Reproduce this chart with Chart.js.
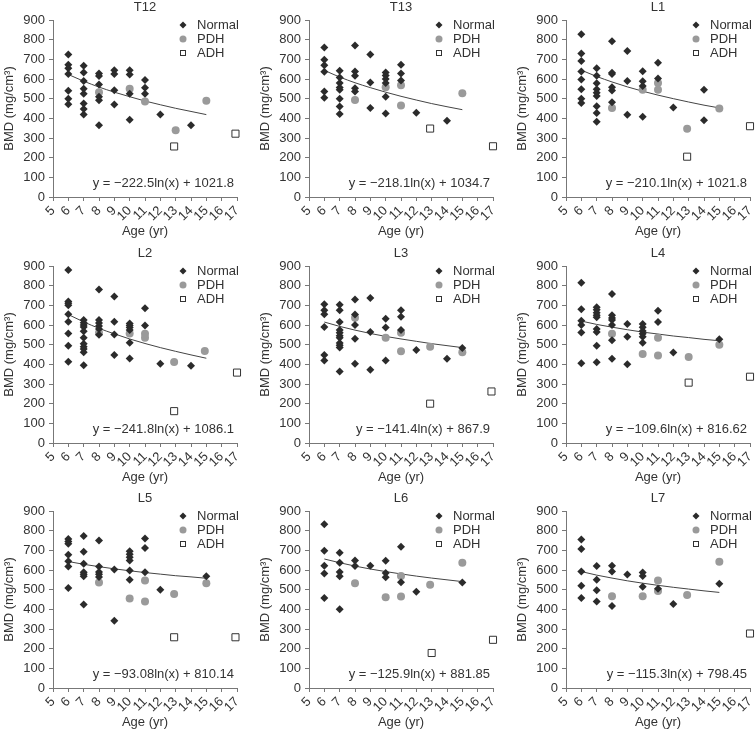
<!DOCTYPE html>
<html lang="en">
<head>
<meta charset="UTF-8">
<title>BMD by age, T12 - L7</title>
<script src="https://cdn.jsdelivr.net/npm/chart.js"></script>
<style>
  body { margin: 0; width: 755px; height: 729px; overflow: hidden; background: #fff; position: relative; }
  canvas { position: absolute; }
</style>
</head>
<body>
<script>
// panels, left to right, top to bottom
const panelNames = ['T12', 'T13', 'L1', 'L2', 'L3', 'L4', 'L5', 'L6', 'L7'];
const equations = [
  'y = \u2212222.5ln(x) + 1021.8',
  'y = \u2212218.1ln(x) + 1034.7',
  'y = \u2212210.1ln(x) + 1021.8',
  'y = \u2212241.8ln(x) + 1086.1',
  'y = \u2212141.4ln(x) + 867.9',
  'y = \u2212109.6ln(x) + 816.62',
  'y = \u221293.08ln(x) + 810.14',
  'y = \u2212125.9ln(x) + 881.85',
  'y = \u2212115.3ln(x) + 798.45'
];

// Normal: [age, [BMD values at that age]]
const normalPts = [
  [[6,[725,672,655,625,540,500,472]],[7,[667,633,590,550,525,475,448,420]],[8,[628,615,572,510,492,365]],[9,[645,625,543,470]],[10,[645,623,525,393]],[11,[595,555,525]],[12,[420]],[14,[365]]],
  [[6,[760,698,670,637,537,505]],[7,[642,608,580,557,545,500,460,422]],[8,[770,638,617,553,537]],[9,[725,582,453]],[10,[633,618,600,580,510,425]],[11,[673,628,592]],[12,[428]],[14,[388]]],
  [[6,[828,730,692,638,597,548,500,478]],[7,[655,617,578,548,530,513,462,427,382]],[8,[792,632,625,558,542,482]],[9,[742,590,418]],[10,[640,588,565,408]],[11,[683,602]],[12,[455]],[14,[545,390]]],
  [[6,[880,720,710,700,655,617,557,495,413]],[7,[625,612,600,590,568,535,505,490,478,462,395]],[8,[780,625,610,595,580,550]],[9,[745,617,552,448]],[10,[608,598,587,575,510,430]],[11,[685,598]],[12,[403]],[14,[393]]],
  [[6,[705,675,655,590,447,420]],[7,[703,675,615,575,560,545,535,508,497,485,363]],[8,[730,653,600,530,403]],[9,[737,565,372]],[10,[632,587,420]],[11,[675,642,575]],[12,[473]],[14,[428]],[15,[483]]],
  [[6,[815,680,622,600,562,405]],[7,[690,678,662,650,640,580,565,495,410]],[8,[757,650,635,625,600,522,428]],[9,[605,540,400]],[10,[605,588,570,555,540,510]],[11,[672,615]],[12,[460]],[15,[527]]],
  [[6,[757,745,733,677,645,618,508]],[7,[773,693,632,588,578,568,425]],[8,[750,618,590,578,565]],[9,[603,342]],[10,[695,680,665,648,597,550]],[11,[760,712,588]],[12,[500]],[15,[568]]],
  [[6,[833,698,622,582,458]],[7,[688,637,590,568,400]],[8,[648,620]],[9,[622]],[10,[647,585,563]],[11,[718,538]],[12,[490]],[15,[537]]],
  [[6,[755,707,592,520,457]],[7,[620,550,497,440]],[8,[622,593,417]],[9,[577]],[10,[587,570,515]],[11,[505]],[12,[427]],[15,[530]]]
];

// PDH and ADH: [age, BMD]
const pdhPts = [
  [[8,533],[10,550],[11,485],[13,340],[15,490]],
  [[8,493],[10,558],[11,568],[11,465],[15,527]],
  [[8,452],[10,545],[11,580],[11,545],[12.9,347],[15,450]],
  [[8,560],[10,557],[11,555],[11,535],[12.9,412],[14.9,468]],
  [[8,637],[10,535],[11,560],[11,467],[12.9,490],[15,462]],
  [[8,555],[10,452],[11,535],[11,445],[13,437],[15,500]],
  [[8,537],[10,455],[11,547],[11,440],[12.9,478],[15,533]],
  [[8,533],[10,462],[11,570],[11,465],[12.9,525],[15,637]],
  [[8,467],[10,467],[11,547],[11,493],[12.9,473],[15,642]]
];
const adhPts = [
  [[12.9,257],[16.9,322]],
  [[12.9,348],[17,258]],
  [[12.9,205],[17,360]],
  [[12.9,162],[17,358]],
  [[12.9,200],[16.9,262]],
  [[13,307],[17,337]],
  [[12.9,258],[16.9,258]],
  [[13,178],[17,245]],
  [[17,277]]
];

// trend line read at each age
const trendAges = [6, 7, 8, 9, 10, 11, 12, 13, 14, 15];
const trendVals = [
  [623,589,559,533,510,488,469,451,435,419],
  [644,610,581,556,533,512,493,475,459,444],
  [645,613,585,560,538,518,500,483,467,453],
  [653,616,583,555,529,506,485,466,448,431],
  [615,593,574,557,542,529,517,505,495,485],
  [620,603,589,576,564,554,544,536,527,520],
  [643,629,617,606,596,587,579,571,565,558],
  [656,637,620,605,592,580,569,559,550,541],
  [592,574,559,545,533,522,512,503,494,486]
];

const colLeft = [0, 256, 513];
const rowTop = [0, 246, 491];
const FONT = '"Liberation Sans", Arial, Helvetica, sans-serif';
const TXT = '#333';

// small legend symbols
function drawMarker(ctx, kind, x, y) {
  ctx.save();
  ctx.lineWidth = 1;
  if (kind === 'Normal') {
    ctx.fillStyle = '#2b2b2b';
    ctx.beginPath();
    ctx.moveTo(x, y - 3.5); ctx.lineTo(x + 3.5, y); ctx.lineTo(x, y + 3.5); ctx.lineTo(x - 3.5, y);
    ctx.closePath(); ctx.fill();
  } else if (kind === 'PDH') {
    ctx.fillStyle = '#9a9a9a';
    ctx.beginPath(); ctx.arc(x, y, 3.5, 0, Math.PI * 2); ctx.fill();
  } else {
    ctx.fillStyle = '#fff'; ctx.strokeStyle = '#333';
    ctx.fillRect(x - 2.5, y - 2.5, 5, 5);
    ctx.strokeRect(x - 2.5, y - 2.5, 5, 5);
  }
  ctx.restore();
}

const decor = {
  id: 'decor',
  afterDraw(chart, args, opts) {
    const ctx = chart.ctx;
    const a = chart.chartArea;
    ctx.save();
    ctx.fillStyle = TXT;
    ctx.font = '13px ' + FONT;
    ctx.textBaseline = 'middle';
    ctx.textAlign = 'center';
    ctx.fillText(opts.title, (a.left + a.right) / 2, 7);
    ['Normal', 'PDH', 'ADH'].forEach((name, i) => {
      const y = a.top + 5 + i * 14;
      drawMarker(ctx, name, a.right - 54, y);
      ctx.fillStyle = TXT;
      ctx.textAlign = 'left';
      ctx.fillText(name, a.right - 40, y);
    });
    ctx.textAlign = 'right';
    ctx.fillText(opts.equation, a.right - 3, a.bottom - 14);
    ctx.restore();
  }
};

panelNames.forEach((name, p) => {
  const canvas = document.createElement('canvas');
  canvas.width = 256;
  canvas.height = 243;
  canvas.style.left = colLeft[p % 3] + 'px';
  canvas.style.top = rowTop[Math.floor(p / 3)] + 'px';
  document.body.appendChild(canvas);

  const normal = [];
  normalPts[p].forEach(([age, vals]) => vals.forEach(v => normal.push({ x: age, y: v })));

  new Chart(canvas, {
    type: 'scatter',
    data: {
      datasets: [
        {
          label: 'Normal',
          data: normal,
          pointStyle: 'rectRot',
          pointRadius: 4,
          backgroundColor: '#2b2b2b',
          borderColor: '#2b2b2b',
          borderWidth: 0,
          clip: false
        },
        {
          label: 'PDH',
          data: pdhPts[p].map(([x, y]) => ({ x, y })),
          pointStyle: 'circle',
          pointRadius: 4,
          backgroundColor: '#9a9a9a',
          borderColor: '#9a9a9a',
          borderWidth: 0,
          clip: false
        },
        {
          label: 'ADH',
          data: adhPts[p].map(([x, y]) => ({ x, y })),
          pointStyle: 'rect',
          pointRadius: 5,
          backgroundColor: '#fff',
          borderColor: '#333',
          borderWidth: 1,
          clip: false
        },
        {
          type: 'line',
          label: 'trend',
          data: trendAges.map((x, i) => ({ x, y: trendVals[p][i] })),
          borderColor: '#444',
          borderWidth: 1,
          pointRadius: 0,
          cubicInterpolationMode: 'monotone',
          fill: false
        }
      ]
    },
    options: {
      responsive: false,
      animation: false,
      layout: { padding: { top: 20, right: 19, bottom: 0, left: 0 } },
      plugins: {
        legend: { display: false },
        tooltip: { enabled: false },
        decor: { title: name, equation: equations[p] }
      },
      scales: {
        x: {
          type: 'linear',
          min: 5,
          max: 17,
          afterFit: s => { s.height = 46; },
          grid: { display: true, drawOnChartArea: false, tickLength: 4, color: '#777' },
          border: { color: '#777' },
          ticks: {
            stepSize: 1,
            autoSkip: false,
            minRotation: 45,
            maxRotation: 45,
            padding: 2,
            color: TXT,
            font: { family: FONT, size: 13 }
          },
          title: {
            display: true,
            text: 'Age (yr)',
            color: TXT,
            font: { family: FONT, size: 13 },
            padding: { top: 0, bottom: 4 }
          }
        },
        y: {
          min: 0,
          max: 900,
          afterFit: s => { s.width = 53; },
          grid: { display: true, drawOnChartArea: false, tickLength: 4, color: '#777' },
          border: { color: '#777' },
          ticks: {
            stepSize: 100,
            padding: 4,
            color: TXT,
            font: { family: FONT, size: 13 }
          },
          title: {
            display: true,
            text: 'BMD (mg/cm\u00B3)',
            color: TXT,
            font: { family: FONT, size: 13 },
            padding: { top: 2, bottom: 0 }
          }
        }
      }
    },
    plugins: [decor]
  });
});
</script>
</body>
</html>
